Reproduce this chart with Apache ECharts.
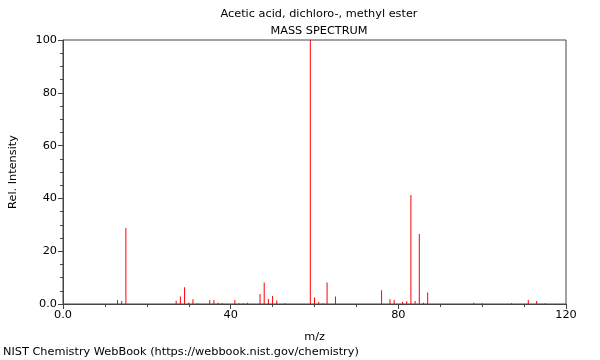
<!DOCTYPE html>
<html>
<head>
<meta charset="utf-8">
<script src="https://cdn.jsdelivr.net/npm/echarts@6/dist/echarts.min.js"></script>
<style>html,body{margin:0;padding:0;background:#fff}#c{width:600px;height:360px}</style>
</head>
<body>
<div id="c"></div>
<script>
const titleLine1 = "Acetic acid, dichloro-, methyl ester";
const titleLine2 = "MASS SPECTRUM";
const xName = "m/z";
const yName = "Rel. Intensity";
const footer = "NIST Chemistry WebBook (https://webbook.nist.gov/chemistry)";
const mz = [13, 14, 15, 27, 28, 29, 30, 31, 32, 35, 36, 37, 38, 41, 42, 43, 44, 47, 48, 49, 50, 51, 53, 59, 60, 61, 62, 63, 65, 76, 78, 79, 81, 82, 83, 84, 85, 86, 87, 98, 100, 107, 111, 113, 115];
const intensity = [1.5, 1.1, 28.8, 1.2, 2.8, 6.3, 0.6, 1.8, 0.3, 1.5, 1.5, 0.5, 0.4, 1.5, 0.3, 0.3, 0.5, 3.8, 8.1, 1.9, 3.0, 1.3, 0.3, 100, 2.5, 0.8, 0.3, 8.1, 2.8, 5.2, 1.8, 1.5, 0.8, 1.0, 41.3, 1.1, 26.5, 0.5, 4.4, 0.5, 0.3, 0.3, 1.5, 1.1, 0.3];

const font = 'DejaVu Sans';
const fs = 11.3;
const chart = echarts.init(document.getElementById('c'), null, {renderer: 'canvas'});
chart.setOption({
  animation: false,
  textStyle: {fontFamily: font},
  title: [
    {text: titleLine1, left: 314, top: 4, textAlign: 'center', textStyle: {fontSize: fs, fontWeight: 'normal', color: '#000', fontFamily: font}},
    {text: titleLine2, left: 314, top: 21, textAlign: 'center', textStyle: {fontSize: fs, fontWeight: 'normal', color: '#000', fontFamily: font}}
  ],
  graphic: [
    {type: 'text', left: 3, top: 347, style: {text: footer, fontSize: fs, fill: '#000', fontFamily: font}}
  ],
  grid: {left: 62, right: 34, top: 40, bottom: 56, show: true, borderColor: '#444', borderWidth: 1},
  xAxis: {
    type: 'value', min: 0, max: 120, interval: 40,
    name: xName, nameLocation: 'middle', nameGap: 28,
    nameTextStyle: {fontSize: fs, color: '#000', fontFamily: font},
    axisLine: {lineStyle: {color: '#444'}},
    axisTick: {length: 5, lineStyle: {color: '#444'}},
    minorTick: {show: true, splitNumber: 4, length: 3, lineStyle: {color: '#444'}},
    splitLine: {show: false},
    axisLabel: {fontSize: fs, color: '#000', margin: 6, formatter: v => v === 0 ? '0.0' : String(v)}
  },
  yAxis: {
    type: 'value', min: 0, max: 100, interval: 20,
    name: yName, nameLocation: 'middle', nameGap: 44,
    nameTextStyle: {fontSize: fs, color: '#000', fontFamily: font},
    axisLine: {show: true, lineStyle: {color: '#444'}},
    axisTick: {show: true, length: 5, lineStyle: {color: '#444'}},
    minorTick: {show: true, splitNumber: 4, length: 3, lineStyle: {color: '#444'}},
    splitLine: {show: false},
    axisLabel: {fontSize: fs, color: '#000', margin: 6, formatter: v => v === 0 ? '0.0' : String(v)}
  },
  series: [{
    type: 'bar',
    barWidth: 1,
    itemStyle: {color: '#ff0000'},
    data: mz.map((m, i) => [m, intensity[i]])
  }]
});
</script>
</body>
</html>
